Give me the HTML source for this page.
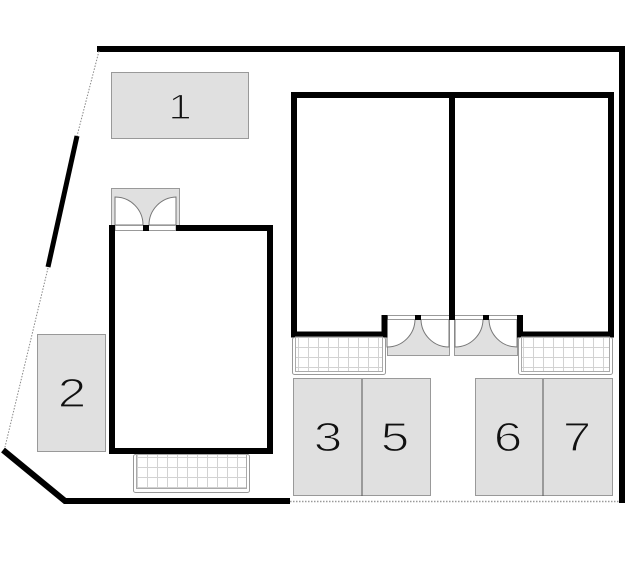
<!DOCTYPE html>
<html><head><meta charset="utf-8"><style>
html,body{margin:0;padding:0;background:#fff;}
svg{display:block;}
text{font-family:"Liberation Sans",sans-serif;}
</style></head><body>
<svg width="639" height="569" viewBox="0 0 639 569" xmlns="http://www.w3.org/2000/svg">
<defs>
<pattern id="g1" x="298" y="337" width="10" height="10" patternUnits="userSpaceOnUse">
<rect width="10" height="10" fill="#fff"/><path d="M0,0.5H10M0.5,0V10" stroke="#d2d2d2" stroke-width="1"/>
</pattern>
<pattern id="g2" x="137" y="457" width="10" height="10" patternUnits="userSpaceOnUse">
<rect width="10" height="10" fill="#fff"/><path d="M0,0.5H10M0.5,0V10" stroke="#d2d2d2" stroke-width="1"/>
</pattern>
<pattern id="g3" x="523" y="337" width="10" height="10" patternUnits="userSpaceOnUse">
<rect width="10" height="10" fill="#fff"/><path d="M0,0.5H10M0.5,0V10" stroke="#d2d2d2" stroke-width="1"/>
</pattern>
</defs>

<!-- site boundary -->
<path d="M97,49 H622 V503" fill="none" stroke="#000" stroke-width="6"/>
<line x1="99" y1="51" x2="77" y2="136" stroke="#888" stroke-width="1" stroke-dasharray="1.5,1.5"/>
<line x1="77" y1="136" x2="48" y2="267" stroke="#000" stroke-width="5"/>
<line x1="48" y1="268" x2="5" y2="447" stroke="#888" stroke-width="1" stroke-dasharray="1.5,1.5"/>
<path d="M3,450 L65,501 H290" fill="none" stroke="#000" stroke-width="6"/>
<line x1="290" y1="501.5" x2="619" y2="501.5" stroke="#999" stroke-width="1.5" stroke-dasharray="1.5,1.5"/>

<!-- parking lots -->
<rect x="111.5" y="72.5" width="137" height="66" fill="#e0e0e0" stroke="#999" stroke-width="1"/>
<rect x="37.5" y="334.5" width="68" height="117" fill="#e0e0e0" stroke="#999" stroke-width="1"/>
<rect x="293.5" y="378.5" width="137" height="117" fill="#e0e0e0" stroke="#999" stroke-width="1"/>
<line x1="362" y1="379" x2="362" y2="496" stroke="#555" stroke-width="1"/>
<rect x="475.5" y="378.5" width="137" height="117" fill="#e0e0e0" stroke="#999" stroke-width="1"/>
<line x1="543" y1="379" x2="543" y2="496" stroke="#555" stroke-width="1"/>

<g fill="#111" stroke="#e0e0e0" stroke-width="1.2">
<text x="180" y="119" font-size="35" text-anchor="middle" transform="translate(180,0) scale(1.2,1) translate(-180,0)">1</text>
<text x="72" y="407" font-size="41" text-anchor="middle" transform="translate(72,0) scale(1.25,1) translate(-72,0)">2</text>
<text x="328" y="451" font-size="41" text-anchor="middle" transform="translate(328,0) scale(1.25,1) translate(-328,0)">3</text>
<text x="395" y="451" font-size="41" text-anchor="middle" transform="translate(395,0) scale(1.25,1) translate(-395,0)">5</text>
<text x="508" y="451" font-size="41" text-anchor="middle" transform="translate(508,0) scale(1.25,1) translate(-508,0)">6</text>
<text x="577" y="451" font-size="41" text-anchor="middle" transform="translate(577,0) scale(1.25,1) translate(-577,0)">7</text>
</g>

<!-- left house porch -->
<rect x="111.5" y="188.5" width="68" height="37" fill="#e0e0e0" stroke="#999" stroke-width="1"/>
<path d="M115,197 A28,28 0 0 1 143,225 L115,225 Z" fill="#fff" stroke="#777" stroke-width="1"/>
<path d="M176,197 A28,28 0 0 0 149,225 L176,225 Z" fill="#fff" stroke="#777" stroke-width="1"/>
<rect x="115" y="225.5" width="61" height="5" fill="#fff" stroke="#999" stroke-width="1"/>

<!-- left house -->
<path d="M176,228 H270 V451 H112 V228 H115" fill="none" stroke="#000" stroke-width="6"/>
<rect x="143" y="225" width="6" height="6" fill="#000"/>
<!-- left house balcony -->
<rect x="133.5" y="454.5" width="116" height="38" rx="2" fill="#fff" stroke="#999" stroke-width="1"/>
<rect x="136.5" y="454.5" width="110" height="34" fill="url(#g2)" stroke="#aaa" stroke-width="1"/>

<!-- right houses porches -->
<rect x="387.5" y="315.5" width="62" height="40" fill="#e0e0e0" stroke="#999" stroke-width="1"/>
<rect x="454.5" y="315.5" width="63" height="40" fill="#e0e0e0" stroke="#999" stroke-width="1"/>
<path d="M387,319 L415,319 A28,28 0 0 1 387,347 Z" fill="#fff" stroke="#777" stroke-width="1"/>
<path d="M449,319 L421,319 A28,28 0 0 0 449,347 Z" fill="#fff" stroke="#777" stroke-width="1"/>
<path d="M455,319 L483,319 A28,28 0 0 1 455,347 Z" fill="#fff" stroke="#777" stroke-width="1"/>
<path d="M517,319 L489,319 A28,28 0 0 0 517,347 Z" fill="#fff" stroke="#777" stroke-width="1"/>
<rect x="387.5" y="315.5" width="130" height="4" fill="#fff" stroke="#999" stroke-width="1"/>

<!-- right houses -->
<path d="M384.5,315 V334.5 H294 V95 H611 V334.5 H520 V315" fill="none" stroke="#000" stroke-width="6" stroke-linejoin="miter"/>
<line x1="452" y1="95" x2="452" y2="320" stroke="#000" stroke-width="6"/>
<rect x="415" y="315" width="6" height="5" fill="#000"/>
<rect x="483" y="315" width="6" height="5" fill="#000"/>

<!-- right balconies -->
<rect x="292.5" y="337.5" width="93" height="37" rx="2" fill="#fff" stroke="#999" stroke-width="1"/>
<rect x="295.5" y="337" width="87" height="34.5" fill="url(#g1)" stroke="#aaa" stroke-width="1"/>
<rect x="518.5" y="337.5" width="94" height="37" rx="2" fill="#fff" stroke="#999" stroke-width="1"/>
<rect x="521.5" y="337" width="88" height="34.5" fill="url(#g3)" stroke="#aaa" stroke-width="1"/>
</svg>
</body></html>
